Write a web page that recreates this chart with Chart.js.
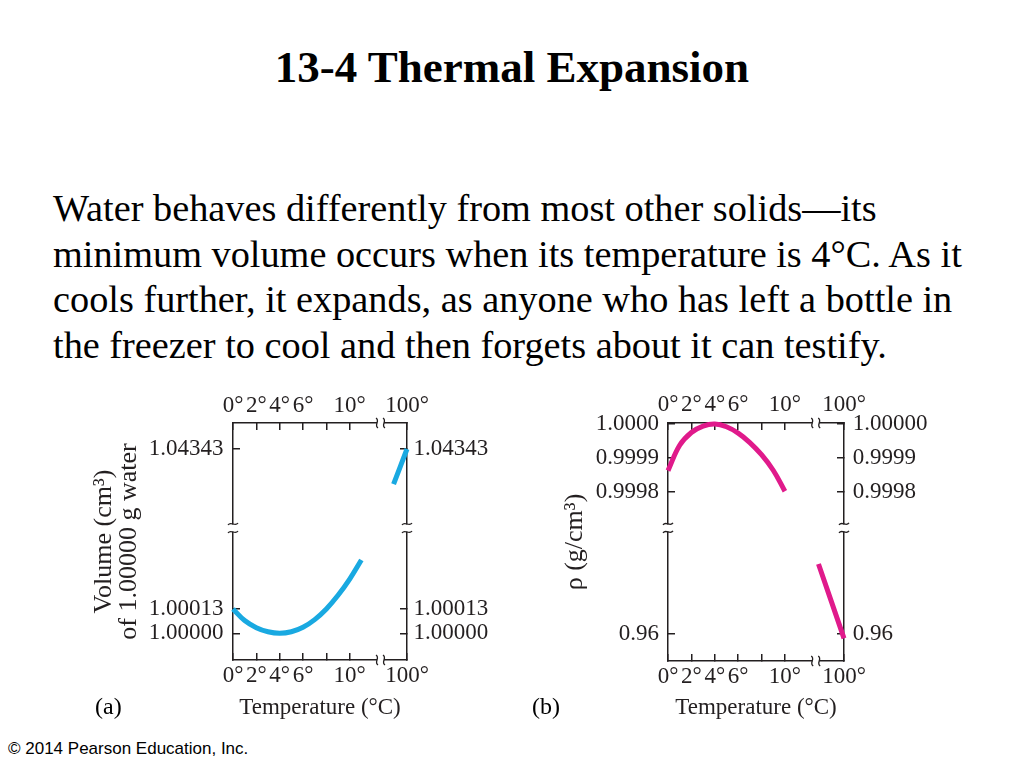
<!DOCTYPE html>
<html>
<head>
<meta charset="utf-8">
<script src="https://cdn.jsdelivr.net/npm/chart.js"></script>
<style>
  body { margin: 0; background: #fff; }
  #slide { position: relative; width: 1024px; height: 768px; overflow: hidden; background: #fff;
           font-family: 'Liberation Serif', 'Times New Roman', serif; color: #000; }
  .t { position: absolute; white-space: nowrap; line-height: 1; }
  canvas { position: absolute; }
</style>
</head>
<body>
<div id="slide">
  <div class="t" style="left:0;width:1024px;text-align:center;top:45px;font-size:45px;font-weight:bold;">13-4 Thermal Expansion</div>
  <div class="t" style="left:53px;top:186px;font-size:38.3px;line-height:45.6px;">Water behaves differently from most other solids—its<br>minimum volume occurs when its temperature is 4°C. As it<br>cools further, it expands, as anyone who has left a bottle in<br>the freezer to cool and then forgets about it can testify.</div>

  <canvas id="chartA" width="440" height="345" style="left:80px;top:385px;"></canvas>
  <canvas id="chartB" width="440" height="345" style="left:520px;top:385px;"></canvas>

  <div class="t" style="left:95px;top:694px;font-size:24px;">(a)</div>
  <div class="t" style="left:532px;top:694px;font-size:24px;">(b)</div>

  <div class="t" style="left:8px;top:740px;font-size:17px;font-family:'Liberation Sans',Arial,sans-serif;">© 2014 Pearson Education, Inc.</div>
</div>

<script>
// (a) volume of 1.00000 g of water
var volTempLow = [0, 1, 2, 3, 4, 5, 6, 7, 8, 9, 10, 11];
var volLow = [1.00013, 1.000068, 1.00003, 1.000008, 1.00000, 1.000008, 1.000032, 1.000073, 1.00013, 1.000203, 1.00029, 1.000392];
var volTempHigh = [97, 100];
var volHigh = [1.04114, 1.04343];

// (b) density
var rhoTempLow = [0, 1, 2, 3, 4, 5, 6, 7, 8, 9, 10];
var rhoLow = [0.999862, 0.999937, 0.999975, 0.999994, 1.000000, 0.999992, 0.999973, 0.999945, 0.999909, 0.999863, 0.999801];
var rhoTempHigh = [95, 100];
var rhoHigh = [0.9829, 0.9584];

// ticks
var tempTicks = [0, 2, 4, 6, 8, 10, 100];
var tempLabels = ['0°', '2°', '4°', '6°', '', '10°', '100°'];
var volTicks = [1.00000, 1.00013, 1.04343];
var volLabels = ['1.00000', '1.00013', '1.04343'];
var rhoTicks = [0.96, 0.9998, 0.9999, 1.0000];
var rhoLabelsLeft = ['0.96', '0.9998', '0.9999', '1.0000'];
var rhoLabelsRight = ['0.96', '0.9998', '0.9999', '1.00000'];

// broken axes: value ranges and the part of the axis they use
var SEGS = {
  ax: [{min: 0, max: 12.4, from: 0, to: 0.8316}, {min: 94.7, max: 100, from: 0.8638, to: 1}],
  bx: [{min: 0, max: 12.4, from: 0, to: 0.8236}, {min: 95, max: 100, from: 0.855, to: 1}],
  ay: [{min: 0.999857, max: 1.000547, from: 0, to: 0.5443}, {min: 1.03849, max: 1.04512, from: 0.5696, to: 1}],
  by: [{min: 0.950958, max: 0.99376, from: 0, to: 0.5463}, {min: 0.999701, max: 1.000003, from: 0.5716, to: 1}]
};

class BrokenScale extends Chart.LinearScale {
  static id = 'broken';
  getPixelForValue(v) {
    if (v === null || v === undefined || isNaN(v)) return NaN;
    var segs = SEGS[this.options.seg];
    var s = segs[0];
    segs.forEach(function (g) { if (v >= g.min) s = g; });
    return this.getPixelForDecimal(s.from + (v - s.min) / (s.max - s.min) * (s.to - s.from));
  }
}
Chart.register(BrokenScale);

var ink = '#231f20';
var serif = "'Liberation Serif', 'Times New Roman', serif";

function axis(pos, seg, min, max, vals, labels, size, pad, title) {
  return {
    type: 'broken', position: pos, seg: seg, min: min, max: max,
    afterBuildTicks: function (s) { s.ticks = vals.map(function (v) { return {value: v}; }); },
    afterFit: function (s) { if (s.isHorizontal()) s.height = size; else s.width = size; },
    border: {display: true, color: ink, width: 1.5},
    grid: {drawOnChartArea: false, drawTicks: true, tickLength: -7, color: ink, lineWidth: 1.5},
    ticks: {autoSkip: false, maxRotation: 0, padding: pad, color: ink, font: {family: serif, size: 23},
            callback: function (v, i) { return labels[i]; }},
    title: title || {display: false}
  };
}

function tilde(ctx, x, y, vertical) {
  ctx.beginPath();
  if (vertical) {
    ctx.moveTo(x - 1, y - 5);
    ctx.bezierCurveTo(x + 3.5, y - 2, x - 3.5, y + 2, x + 1, y + 5);
  } else {
    ctx.moveTo(x - 5, y + 1);
    ctx.bezierCurveTo(x - 2, y - 3.5, x + 2, y + 3.5, x + 5, y - 1);
  }
  ctx.stroke();
}

var breakMarks = {
  id: 'breakMarks',
  afterDraw: function (chart) {
    var ctx = chart.ctx, a = chart.chartArea;
    ctx.save();
    ctx.strokeStyle = ink;
    ctx.lineWidth = 1.3;
    ['x', 'x2', 'y', 'y2'].forEach(function (id) {
      var s = chart.scales[id];
      var g = SEGS[s.options.seg];
      var p = s.getPixelForDecimal((g[0].to + g[1].from) / 2);
      ctx.fillStyle = '#fff';
      if (s.isHorizontal()) {
        var y = id === 'x' ? a.bottom : a.top;
        ctx.fillRect(p - 3.5, y - 3, 7, 6);
        tilde(ctx, p - 3.5, y, true);
        tilde(ctx, p + 3.5, y, true);
      } else {
        var x = id === 'y' ? a.left : a.right;
        ctx.fillRect(x - 3, p - 3.5, 6, 7);
        tilde(ctx, x, p - 4, false);
        tilde(ctx, x, p + 4, false);
      }
    });
    ctx.restore();
  }
};

function pts(xs, ys) {
  return xs.map(function (x, i) { return {x: x, y: ys[i]}; });
}

function line(data, color) {
  return {data: data, borderColor: color, borderWidth: 5, pointRadius: 0,
          tension: 0.4, fill: false, clip: false};
}

var tempTitle = {display: true, text: 'Temperature (°C)', color: ink, font: {family: serif, size: 23}, padding: {top: 0, bottom: 8}};

new Chart(document.getElementById('chartA'), {
  type: 'line',
  data: {
    datasets: [
      line(pts(volTempLow, volLow), '#19a9e1'),
      line(pts(volTempHigh, volHigh), '#19a9e1')
    ]
  },
  options: {
    responsive: false, animation: false, events: [],
    layout: {padding: 0},
    plugins: {legend: {display: false}, tooltip: {enabled: false}},
    scales: {
      x: axis('bottom', 'ax', 0, 100, tempTicks, tempLabels, 70, 8.7, tempTitle),
      x2: axis('top', 'ax', 0, 100, tempTicks, tempLabels, 38, 10.7),
      y: axis('left', 'ay', 0.999857, 1.04512, volTicks, volLabels, 153, 16.4,
        {display: true, text: ['Volume (cm³)', 'of 1.00000 g water'], color: ink,
         font: {family: serif, size: 26, lineHeight: 0.96}, padding: {top: 11.5, bottom: 0}}),
      y2: axis('right', 'ay', 0.999857, 1.04512, volTicks, volLabels, 113, 13.6)
    }
  },
  plugins: [breakMarks]
});

new Chart(document.getElementById('chartB'), {
  type: 'line',
  data: {
    datasets: [
      line(pts(rhoTempLow, rhoLow), '#e01a8b'),
      line(pts(rhoTempHigh, rhoHigh), '#e01a8b')
    ]
  },
  options: {
    responsive: false, animation: false, events: [],
    layout: {padding: 0},
    plugins: {legend: {display: false}, tooltip: {enabled: false}},
    scales: {
      x: axis('bottom', 'bx', 0, 100, tempTicks, tempLabels, 69, 9, tempTitle),
      x2: axis('top', 'bx', 0, 100, tempTicks, tempLabels, 38, 11.5),
      y: axis('left', 'by', 0.950958, 1.000003, rhoTicks, rhoLabelsLeft, 148, 16,
        {display: true, text: 'ρ (g/cm³)', color: ink,
         font: {family: serif, size: 26, lineHeight: 0.96}, padding: {top: 42.5, bottom: 0}}),
      y2: axis('right', 'by', 0.950958, 1.000003, rhoTicks, rhoLabelsRight, 116, 15.7)
    }
  },
  plugins: [breakMarks]
});
</script>
</body>
</html>
